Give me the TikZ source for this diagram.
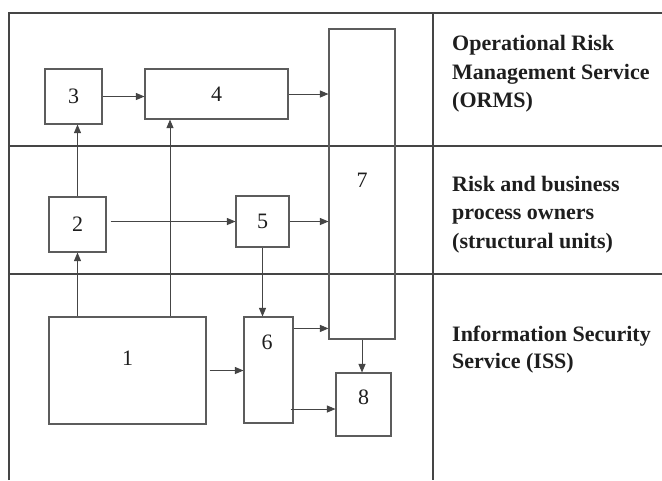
\documentclass[tikz,border=0pt]{standalone}
\usepackage{fontspec}
\setmainfont{Liberation Serif}
\usetikzlibrary{arrows.meta}
\definecolor{linec}{HTML}{454545}
\definecolor{boxc}{HTML}{5C5C5C}
\definecolor{txt}{HTML}{1E1E1E}
\begin{document}
\begin{tikzpicture}[x=1pt,y=-1pt,
  frame/.style={draw=linec, line width=1.4pt},
  box/.style={draw=boxc, line width=1.1pt, inner sep=0pt, font=\fontsize{22}{26}\selectfont, text=txt},
  arr/.style={draw=linec, line width=0.9pt, -{Triangle[length=8.5pt,width=7pt]}},
  rt/.style={anchor=base west, inner sep=0pt, font=\fontsize{22}{28}\selectfont\bfseries, text=txt},
  dig/.style={font=\fontsize{22}{26}\selectfont, text=txt, inner sep=0pt}]
\useasboundingbox (0,0) rectangle (662,480);
\fill[white] (0,0) rectangle (662,480);
% table frame
\draw[frame] (9,480) -- (9,13) -- (662,13);
\draw[frame] (9,146) -- (662,146);
\draw[frame] (9,274) -- (662,274);
\draw[frame, line width=2.2pt] (433,13) -- (433,480);
% boxes
\node[box, minimum width=57pt, minimum height=55pt] (b3) at (73.5,96.5) {3};
\node[box, minimum width=143pt, minimum height=50pt] (b4) at (216.5,94) {4};
\node[box, minimum width=66pt, minimum height=310pt,
  label={[dig, yshift=4pt]center:7}] (b7) at (362,184) {};
\node[box, minimum width=57pt, minimum height=55pt] (b2) at (77.5,224.5) {2};
\node[box, minimum width=53pt, minimum height=51pt] (b5) at (262.5,221.5) {5};
\node[box, minimum width=157pt, minimum height=107pt,
  label={[dig, yshift=12.5pt]center:1}] (b1) at (127.5,370.5) {};
\node[box, minimum width=49pt, minimum height=106pt,
  label={[dig, yshift=28pt, xshift=-1.5pt]center:6}] (b6) at (268.5,370) {};
\node[box, minimum width=55pt, minimum height=63pt,
  label={[dig, yshift=7.5pt]center:8}] (b8) at (363.5,404.5) {};
% connectors
\coordinate (c14) at (170,0);
\draw[arr] (b3.east) -- (b3.east -| b4.west);
\draw[arr] (b4.east) -- (b4.east -| b7.west);
\draw[arr] (b2.north) -- (b2.north |- b3.south);
\draw[arr] (b1.north -| c14) -- (b4.south -| c14);
\draw[arr] ([xshift=4pt]b5.west -| b2.east) -- (b5.west);
\draw[arr] (b5.east) -- (b5.east -| b7.west);
\draw[arr] (b1.north -| b2.south) -- (b2.south);
\draw[arr] (b5.south) -- (b5.south |- b6.north);
\draw[arr] ([yshift=-12pt]b6.north east) -- ([yshift=-12pt]b6.north east -| b7.west);
\draw[arr] ([xshift=3pt]b1.east) -- (b1.east -| b6.west);
\draw[arr] (b7.south) -- (b7.south |- b8.north);
\draw[arr] ([xshift=-3pt,yshift=-39pt]b6.east) -- ([yshift=-39pt]b6.east -| b8.west);
% right column texts
\node[rt] (t1a) at (452,50) {Operational Risk};
\node[rt] (t1b) at (452,79) {Management Service};
\node[rt] (t1c) at (452,107.5) {(ORMS)};
\node[rt] (t2a) at (452,191) {Risk and business};
\node[rt] (t2b) at (452,219.5) {process owners};
\node[rt] (t2c) at (452,248) {(structural units)};
\node[rt] (t3a) at (452,341) {Information Security};
\node[rt] (t3b) at (452,368.5) {Service (ISS)};
\end{tikzpicture}
\end{document}
